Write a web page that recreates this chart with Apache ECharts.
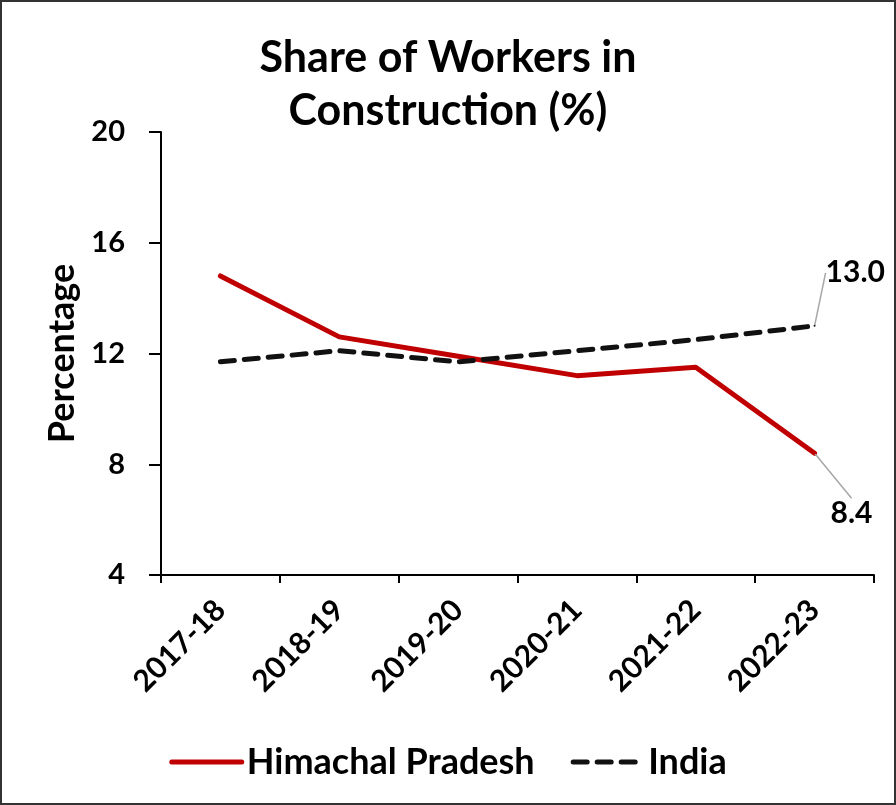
<!DOCTYPE html>
<html>
<head>
<meta charset="utf-8">
<script src="https://cdn.jsdelivr.net/npm/echarts@6/dist/echarts.min.js"></script>
<style>
html,body{margin:0;padding:0;background:#fff;}
#c{width:892px;height:801px;border:2px solid #333;}
</style>
</head>
<body>
<div id="c"></div>
<script>
const categories = ['2017-18','2018-19','2019-20','2020-21','2021-22','2022-23'];
const himachal = [14.8, 12.6, 11.9, 11.2, 11.5, 8.4];
const india = [11.7, 12.1, 11.7, 12.1, 12.5, 13.0];
const yTicks = {min: 4, max: 20, interval: 4};
const FONT = 'Lato';

function withEndLabel(arr) {
  return arr.map((v, i) => {
    if (i !== arr.length - 1) return v;
    return {
      value: v,
      symbol: 'circle', symbolSize: 2,
      label: {
        show: true, position: 'right', formatter: (p) => p.value.toFixed(1),
        fontFamily: FONT, fontWeight: 'bold', fontSize: 30, color: '#000'
      },
      labelLine: {show: true, lineStyle: {color: '#a6a6a6', width: 1.5}}
    };
  });
}

const chart = echarts.init(document.getElementById('c'));
chart.setOption({
  animation: false,
  title: {
    text: 'Share of Workers in\nConstruction (%)',
    left: 'center', top: 25,
    textStyle: {fontFamily: FONT, fontWeight: 'bold', fontSize: 43, lineHeight: 53, color: '#000'}
  },
  grid: {left: 159, right: 20, top: 130, bottom: 228, containLabel: false},
  legend: {
    bottom: 18, left: 'center', itemWidth: 70, itemHeight: 14, itemGap: 36,
    textStyle: {fontFamily: FONT, fontWeight: 'bold', fontSize: 36, color: '#000'},
    lineStyle: {width: 5},
    itemStyle: {opacity: 0},
    data: ['Himachal Pradesh', 'India']
  },
  xAxis: {
    type: 'category', data: categories, boundaryGap: true,
    axisLine: {lineStyle: {color: '#000', width: 2}},
    axisTick: {show: true, length: 8, lineStyle: {color: '#000', width: 2}},
    axisLabel: {rotate: 45, fontFamily: FONT, fontWeight: 'bold', fontSize: 30, color: '#000', margin: 30}
  },
  yAxis: {
    type: 'value', min: yTicks.min, max: yTicks.max, interval: yTicks.interval,
    name: 'Percentage', nameLocation: 'middle', nameGap: 72,
    nameTextStyle: {fontFamily: FONT, fontWeight: 'bold', fontSize: 36, color: '#000'},
    axisLine: {show: true, lineStyle: {color: '#000', width: 2}},
    axisTick: {show: true, inside: false, length: 12, lineStyle: {color: '#000', width: 2}},
    splitLine: {show: false},
    axisLabel: {fontFamily: FONT, fontWeight: 'bold', fontSize: 29, color: '#000', margin: 36}
  },
  series: [
    {
      name: 'Himachal Pradesh', type: 'line', data: withEndLabel(himachal),
      symbol: 'none', lineStyle: {color: '#c00000', width: 5, cap: 'round'},
      itemStyle: {color: '#c00000'},
      labelLayout: {dx: 10, dy: 60},
      labelLine: {show: true, lineStyle: {color: '#a6a6a6', width: 1.5}}
    },
    {
      name: 'India', type: 'line', data: withEndLabel(india),
      symbol: 'none', lineStyle: {color: '#111', width: 5, type: [14, 10], cap: 'round'},
      itemStyle: {color: '#111'},
      labelLayout: {dx: 5, dy: -53},
      labelLine: {show: true, lineStyle: {color: '#a6a6a6', width: 1.5}}
    }
  ]
});
</script>
</body>
</html>
